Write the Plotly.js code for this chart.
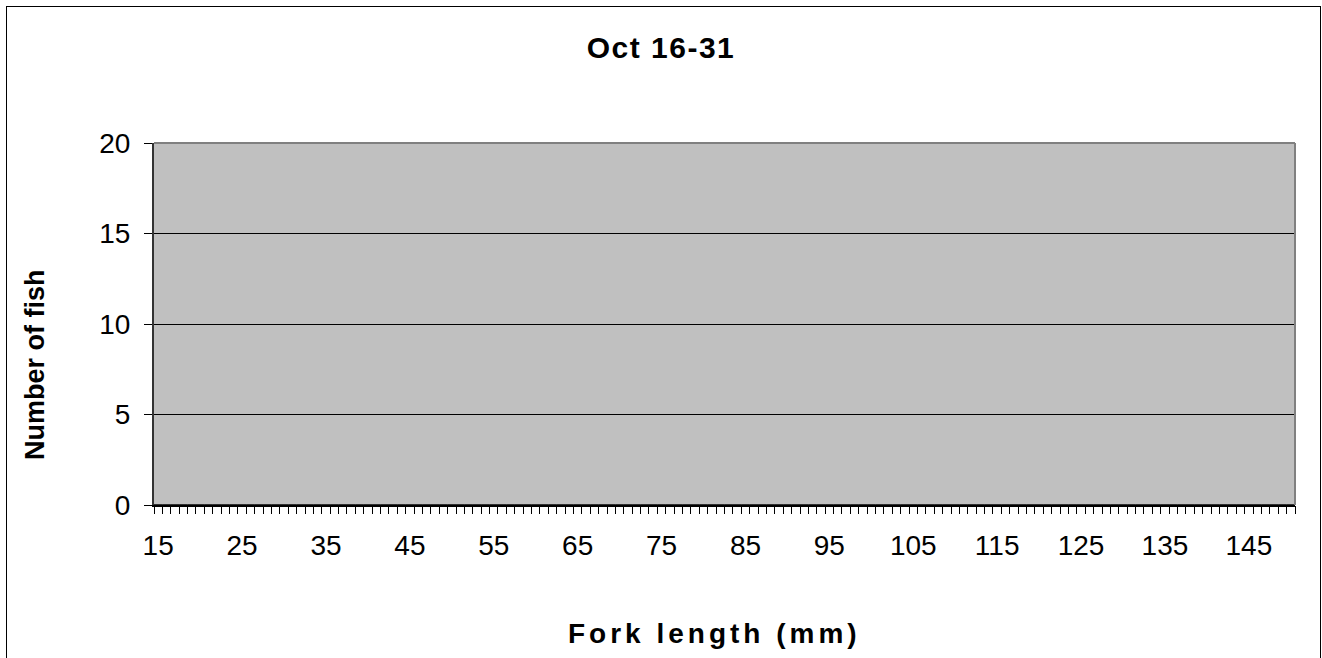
<!DOCTYPE html>
<html>
<head>
<meta charset="utf-8">
<script src="https://cdn.plot.ly/plotly-3.0.1.min.js"></script>
<style>
html,body{margin:0;padding:0;background:#fff;}
#wrap{position:relative;width:1322px;height:658px;overflow:hidden;}
#chart{width:1322px;height:658px;}
#frame{position:absolute;left:6px;top:6px;width:1313px;height:700px;border:1.5px solid #000;pointer-events:none;}
.gtitle{letter-spacing:1.5px;}
.annotation[data-index="1"] text{letter-spacing:4px;}
</style>
</head>
<body>
<div id="wrap"><div id="chart"></div><div id="frame"></div></div>
<script>
// Fork length categories (mm)
const forkLengths = [15,16,17,18,19,20,21,22,23,24,25,26,27,28,29,30,31,32,33,34,35,36,37,38,39,40,41,42,43,44,45,46,47,48,49,50,51,52,53,54,55,56,57,58,59,60,61,62,63,64,65,66,67,68,69,70,71,72,73,74,75,76,77,78,79,80,81,82,83,84,85,86,87,88,89,90,91,92,93,94,95,96,97,98,99,100,101,102,103,104,105,106,107,108,109,110,111,112,113,114,115,116,117,118,119,120,121,122,123,124,125,126,127,128,129,130,131,132,133,134,135,136,137,138,139,140,141,142,143,144,145,146,147,148,149,150];
// Number of fish per category (none caught Oct 16-31)
const fishCounts = [0,0,0,0,0,0,0,0,0,0,0,0,0,0,0,0,0,0,0,0,0,0,0,0,0,0,0,0,0,0,0,0,0,0,0,0,0,0,0,0,0,0,0,0,0,0,0,0,0,0,0,0,0,0,0,0,0,0,0,0,0,0,0,0,0,0,0,0,0,0,0,0,0,0,0,0,0,0,0,0,0,0,0,0,0,0,0,0,0,0,0,0,0,0,0,0,0,0,0,0,0,0,0,0,0,0,0,0,0,0,0,0,0,0,0,0,0,0,0,0,0,0,0,0,0,0,0,0,0,0,0,0,0,0,0,0];
// X tick labels
const xTickVals = [15,25,35,45,55,65,75,85,95,105,115,125,135,145];
const xTickText = ["15","25","35","45","55","65","75","85","95","105","115","125","135","145"];
const yTickVals = [0,5,10,15,20];

const first = forkLengths[0], last = forkLengths[forkLengths.length-1];
const boundaries = forkLengths.map(v => v - 0.5).concat([last + 0.5]);

const FONT = "Liberation Sans, Arial, sans-serif";

const data = [
  {
    type: 'bar',
    x: forkLengths,
    y: fishCounts,
    marker: {color: '#9999ff', line: {color: '#000', width: 1}},
    width: 1,
    hoverinfo: 'x+y',
    showlegend: false
  },
  {
    type: 'scatter',
    x: [first - 0.5, last + 0.5],
    y: [0, 0],
    xaxis: 'x2',
    mode: 'lines',
    line: {color: 'rgba(0,0,0,0)'},
    hoverinfo: 'skip',
    showlegend: false
  }
];

const layout = {
  width: 1322,
  height: 658,
  margin: {l: 154, r: 27, t: 143, b: 153},
  paper_bgcolor: 'rgba(0,0,0,0)',
  plot_bgcolor: '#c0c0c0',
  bargap: 0,
  font: {family: FONT, color: '#000'},
  title: {
    text: '<b>Oct 16-31</b>',
    font: {family: FONT, size: 30, color: '#000'},
    x: 0.5, xanchor: 'center',
    y: 1 - 47/658, yanchor: 'middle'
  },
  xaxis: {
    range: [first - 0.5, last + 0.5],
    tickmode: 'array',
    tickvals: xTickVals,
    ticktext: xTickText,
    ticks: '',
    ticklabelstandoff: 15,
    tickfont: {family: FONT, size: 28, color: '#000'},
    showgrid: false,
    zeroline: false,
    showline: true,
    linecolor: '#000',
    linewidth: 1.5,
    fixedrange: true
  },
  xaxis2: {
    overlaying: 'x',
    anchor: 'y',
    side: 'bottom',
    range: [first - 0.5, last + 0.5],
    tickmode: 'array',
    tickvals: boundaries,
    showticklabels: false,
    ticks: 'outside',
    ticklen: 8,
    tickwidth: 1,
    tickcolor: '#000',
    showgrid: false,
    zeroline: false,
    showline: false,
    fixedrange: true
  },
  yaxis: {
    range: [0, 20],
    tickmode: 'array',
    tickvals: yTickVals,
    ticks: 'outside',
    ticklen: 8,
    tickcolor: '#000',
    tickwidth: 1,
    ticklabelstandoff: 8,
    tickfont: {family: FONT, size: 28, color: '#000'},
    showgrid: true,
    gridcolor: '#000',
    gridwidth: 1,
    zeroline: false,
    showline: true,
    linecolor: '#333',
    linewidth: 2,
    fixedrange: true
  },
  annotations: [
    {
      text: '<b>Number of fish</b>',
      xref: 'paper', yref: 'paper',
      x: (35 - 154) / 1141, y: (505 - 365) / 362,
      xanchor: 'center', yanchor: 'middle',
      textangle: -90,
      showarrow: false,
      font: {family: FONT, size: 27, color: '#000'}
    },
    {
      text: '<b>Fork length (mm)</b>',
      xref: 'paper', yref: 'paper',
      x: (714 - 154) / 1141, y: (505 - 633) / 362,
      xanchor: 'center', yanchor: 'middle',
      showarrow: false,
      font: {family: FONT, size: 28, color: '#000'}
    }
  ],
  shapes: [
    {type: 'line', xref: 'paper', yref: 'paper', x0: 0, x1: 1, y0: 1, y1: 1, line: {color: '#808080', width: 2}},
    {type: 'line', xref: 'paper', yref: 'paper', x0: 1, x1: 1, y0: 0, y1: 1, line: {color: '#808080', width: 2}}
  ]
};

Plotly.newPlot('chart', data, layout, {displayModeBar: false, staticPlot: true});
</script>
</body>
</html>
